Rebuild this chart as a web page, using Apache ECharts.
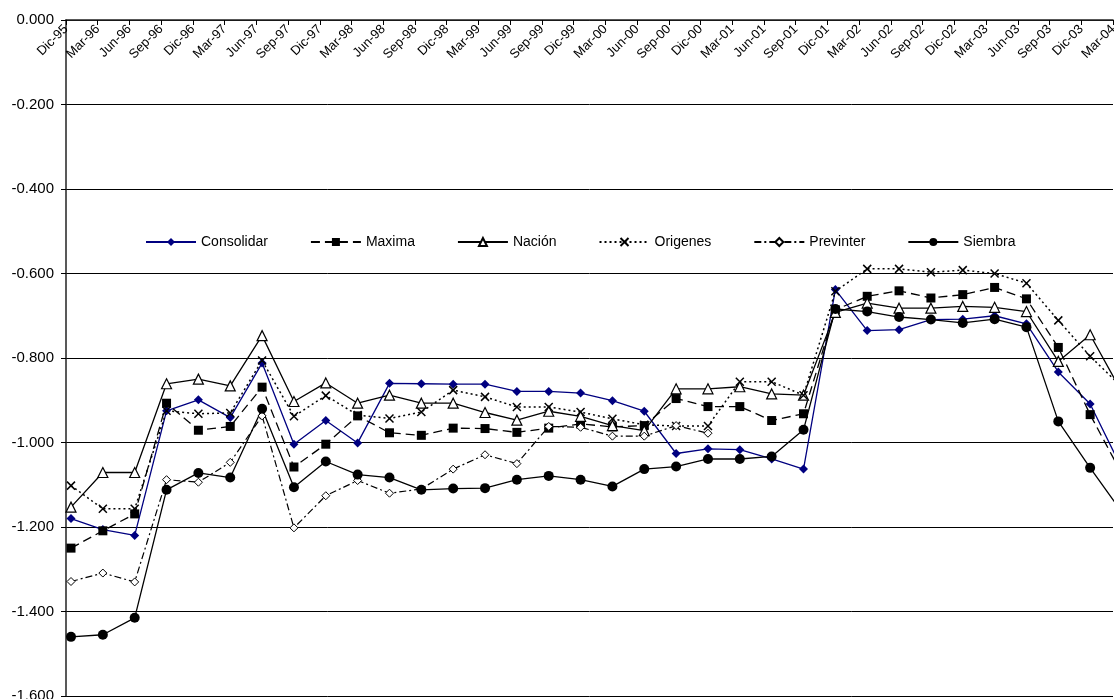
<!DOCTYPE html>
<html>
<head>
<meta charset="utf-8">
<script src="https://cdn.jsdelivr.net/npm/echarts@6/dist/echarts.min.js"></script>
<style>
  html, body { margin: 0; padding: 0; background: #fff; }
  #chart { width: 1114px; height: 699px; }
</style>
</head>
<body>
<div id="chart"></div>
<script>
// trimestres (eje superior)
const categories = ['Dic-95', 'Mar-96', 'Jun-96', 'Sep-96', 'Dic-96', 'Mar-97', 'Jun-97', 'Sep-97', 'Dic-97',
  'Mar-98', 'Jun-98', 'Sep-98', 'Dic-98', 'Mar-99', 'Jun-99', 'Sep-99', 'Dic-99', 'Mar-00', 'Jun-00',
  'Sep-00', 'Dic-00', 'Mar-01', 'Jun-01', 'Sep-01', 'Dic-01', 'Mar-02', 'Jun-02', 'Sep-02', 'Dic-02',
  'Mar-03', 'Jun-03', 'Sep-03', 'Dic-03', 'Mar-04'];

const consolidar = [-1.180, -1.206, -1.220, -0.925, -0.899, -0.941, -0.812, -1.004, -0.948, -1.001, -0.860, -0.861,
  -0.862, -0.862, -0.879, -0.879, -0.883, -0.901, -0.926, -1.026, -1.015, -1.017, -1.039, -1.063, -0.638, -0.735,
  -0.733, -0.709, -0.708, -0.700, -0.719, -0.833, -0.909, -1.062];
const maxima = [-1.250, -1.209, -1.169, -0.907, -0.971, -0.962, -0.869, -1.058, -1.004, -0.937, -0.977, -0.983,
  -0.966, -0.967, -0.976, -0.966, -0.956, -0.963, -0.960, -0.896, -0.915, -0.915, -0.948, -0.932, -0.686, -0.654,
  -0.641, -0.658, -0.650, -0.633, -0.660, -0.775, -0.934, -1.075];
const nacion = [-1.153, -1.071, -1.071, -0.861, -0.850, -0.866, -0.747, -0.903, -0.859, -0.907, -0.888, -0.907,
  -0.907, -0.929, -0.947, -0.926, -0.938, -0.960, -0.972, -0.873, -0.873, -0.868, -0.885, -0.888, -0.692, -0.670,
  -0.682, -0.682, -0.678, -0.680, -0.690, -0.808, -0.745, -0.881];
const origenes = [-1.102, -1.157, -1.157, -0.925, -0.932, -0.930, -0.806, -0.938, -0.889, -0.935, -0.943, -0.928,
  -0.876, -0.892, -0.916, -0.916, -0.928, -0.944, -0.958, -0.961, -0.961, -0.856, -0.856, -0.888, -0.642, -0.589,
  -0.589, -0.597, -0.592, -0.600, -0.623, -0.711, -0.796, -0.869];
const previnter = [-1.329, -1.309, -1.330, -1.088, -1.094, -1.047, -0.937, -1.202, -1.126, -1.090, -1.120, -1.110,
  -1.063, -1.029, -1.050, -0.962, -0.964, -0.985, -0.985, -0.960, -0.978];
const siembra = [-1.460, -1.455, -1.415, -1.112, -1.072, -1.083, -0.920, -1.106, -1.045, -1.076, -1.083, -1.112,
  -1.109, -1.108, -1.088, -1.079, -1.088, -1.104, -1.063, -1.057, -1.039, -1.039, -1.033, -0.970, -0.684, -0.690,
  -0.703, -0.709, -0.717, -0.708, -0.727, -0.950, -1.060, -1.165];

const yMin = -1.6, yMax = 0, yStep = 0.2;
const FONT = '"Liberation Sans", Arial, sans-serif';

const chart = echarts.init(document.getElementById('chart'), null, {renderer: 'canvas'});

function serie(name, data, lineStyle, symbol, size, itemStyle) {
  return {
    name: name,
    type: 'line',
    data: data,
    xAxisIndex: 1,
    yAxisIndex: 1,
    symbol: symbol,
    symbolSize: size,
    showAllSymbol: true,
    connectNulls: false,
    lineStyle: lineStyle,
    itemStyle: itemStyle,
    emphasis: {disabled: true}
  };
}

const option = {
  animation: false,
  backgroundColor: '#fff',
  textStyle: {fontFamily: FONT},
  legend: {
    left: 140,
    top: 230,
    itemWidth: 50,
    itemHeight: 10,
    itemGap: 42,
    textStyle: {fontSize: 14, color: '#000', fontFamily: FONT},
    data: ['Consolidar', 'Maxima', 'Nación', 'Origenes', 'Previnter', 'Siembra']
  },
  grid: [
    // rejilla visible (ejes y lineas)
    {left: 66, right: 1, top: 20, bottom: 3, outerBoundsMode: 'none'},
    // rejilla de datos (los puntos van algo desplazados respecto de las marcas)
    {left: 71, right: -8, top: 20, bottom: 3, outerBoundsMode: 'none'}
  ],
  xAxis: [{
    gridIndex: 0,
    type: 'category',
    data: categories,
    position: 'top',
    boundaryGap: false,
    axisLine: {show: true, lineStyle: {color: '#222', width: 1.5}},
    axisTick: {show: true, inside: true, length: 5, interval: 0, lineStyle: {color: '#000'}},
    axisLabel: {
      inside: true, rotate: 45, interval: 0, margin: 7,
      fontSize: 13, color: '#000', fontFamily: FONT
    },
    splitLine: {show: false}
  }, {
    gridIndex: 1,
    type: 'category',
    data: categories,
    boundaryGap: false,
    show: false
  }],
  yAxis: [{
    gridIndex: 0,
    type: 'value',
    min: yMin,
    max: yMax,
    interval: yStep,
    axisLine: {show: true, lineStyle: {color: '#222', width: 1.5}},
    axisTick: {show: true, length: 5, lineStyle: {color: '#000'}},
    axisLabel: {
      margin: 12, fontSize: 15, color: '#000', fontFamily: FONT,
      formatter: v => v.toFixed(3)
    },
    splitLine: {show: true, lineStyle: {color: '#000', width: 1}}
  }, {
    gridIndex: 1,
    type: 'value',
    min: yMin,
    max: yMax,
    interval: yStep,
    show: false,
    splitLine: {show: false}
  }],
  series: [
    serie('Consolidar', consolidar, {color: '#000080', width: 1.3}, 'diamond', 9,
      {color: '#000080'}),
    serie('Maxima', maxima, {color: '#000', width: 1.3, type: [9, 5]}, 'rect', 9,
      {color: '#000'}),
    serie('Nación', nacion, {color: '#000', width: 1.3}, 'triangle', 10,
      {color: '#fff', borderColor: '#000', borderWidth: 1.2}),
    serie('Origenes', origenes, {color: '#000', width: 1.5, type: [2, 3]}, 'path://M0,0L10,10M10,0L0,10', 8,
      {color: 'none', borderColor: '#000', borderWidth: 1.5}),
    serie('Previnter', previnter, {color: '#000', width: 1.2, type: [7, 3, 2, 3]}, 'diamond', 8,
      {color: '#fff', borderColor: '#000', borderWidth: 1}),
    serie('Siembra', siembra, {color: '#000', width: 1.3}, 'circle', 10,
      {color: '#000'})
  ]
};

chart.setOption(option);
</script>
</body>
</html>
